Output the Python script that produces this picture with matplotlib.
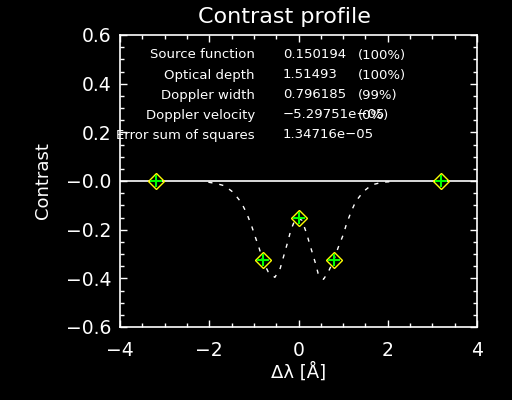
import matplotlib
matplotlib.use("Agg")
import matplotlib.pyplot as plt
from matplotlib.ticker import MultipleLocator, FuncFormatter

# ---- data ----
obs_x = [-3.2, -0.8, 0.0, 0.8, 3.2]
obs_y = [0.0, -0.325, -0.153, -0.325, 0.0]

model_x = [-2.02, -1.85, -1.65, -1.46, -1.28, -1.16, -1.05, -0.97, -0.88, -0.79,
           -0.68, -0.53, -0.41, -0.34, -0.25, -0.17, -0.08, 0.0, 0.08, 0.18,
           0.28, 0.37, 0.44, 0.56, 0.67, 0.79, 0.89, 1.00, 1.08, 1.18,
           1.28, 1.45, 1.64, 1.88, 2.05]
model_y = [-0.005, -0.010, -0.020, -0.047, -0.089, -0.133, -0.185, -0.229, -0.277, -0.332,
           -0.373, -0.396, -0.359, -0.314, -0.256, -0.201, -0.160, -0.153, -0.162, -0.215,
           -0.277, -0.332, -0.380, -0.404, -0.373, -0.325, -0.273, -0.222, -0.174, -0.126,
           -0.085, -0.044, -0.016, -0.005, -0.003]

param_names = ["Source function", "Optical depth", "Doppler width",
               "Doppler velocity", "Error sum of squares"]
param_values = ["0.150194", "1.51493", "0.796185", "\u22125.29751e\u221205", "1.34716e\u221205"]
param_pct = ["(100%)", "(100%)", "(99%)", "(0%)", ""]

title = "Contrast profile"
xlabel = "\u0394\u03bb [\u00c5]"
ylabel = "Contrast"

# ---- figure ----
plt.rcParams['font.family'] = ['DejaVu Sans']
FG = 'white'
fig = plt.figure(figsize=(5.12, 4.00), dpi=100, facecolor='black')
ax = fig.add_axes([120/512, 1-327/400, (477-120)/512, (327-35)/400], facecolor='black')

ax.set_xlim(-4, 4)
ax.set_ylim(-0.6, 0.6)

ax.axhline(0, color=FG, lw=1.2, zorder=2)
ax.plot(model_x, model_y, color=FG, lw=1.0, dashes=(3, 5), zorder=3)
ax.plot(obs_x, obs_y, linestyle='none', marker='D', markersize=8,
        markerfacecolor='none', markeredgecolor='yellow', markeredgewidth=1.0, zorder=4)
ax.plot(obs_x, obs_y, linestyle='none', marker='+', markersize=8,
        color='#00ff00', markeredgewidth=1.5, zorder=5)

for s in ax.spines.values():
    s.set_color(FG)
    s.set_linewidth(1.2)

ax.xaxis.set_major_locator(MultipleLocator(2))
ax.xaxis.set_minor_locator(MultipleLocator(0.5))
ax.yaxis.set_major_locator(MultipleLocator(0.2))
ax.yaxis.set_minor_locator(MultipleLocator(0.05))

def fmt_x(v, pos):
    s = "%d" % round(v)
    return s.replace('-', '\u2212')

def fmt_y(v, pos):
    if abs(v) < 1e-9:
        return "\u22120.0"
    return ("%.1f" % v).replace('-', '\u2212')

ax.xaxis.set_major_formatter(FuncFormatter(fmt_x))
ax.yaxis.set_major_formatter(FuncFormatter(fmt_y))

ax.tick_params(which='both', direction='in', colors=FG, top=True, right=True,
               labelsize=13.5, width=1.0)
ax.tick_params(which='major', length=5)
ax.tick_params(which='minor', length=3)
ax.tick_params(axis='x', pad=10)
ax.tick_params(axis='y', pad=6)

fig.text(284/512, 1-17/400, title, color=FG, fontsize=16, ha='center', va='center')
ax.set_xlabel(xlabel, color=FG, fontsize=13, labelpad=2)
ax.set_ylabel(ylabel, color=FG, fontsize=13, labelpad=10)

# annotation block (figure pixel coordinates)
rows_y = [55, 75, 95, 115, 135]
for name, val, pct, yy in zip(param_names, param_values, param_pct, rows_y):
    fig.text(255/512, 1-yy/400, name, color=FG, fontsize=9.5, ha='right', va='center')
    fig.text(283/512, 1-yy/400, val, color=FG, fontsize=9.5, ha='left', va='center')
    if pct:
        fig.text(358/512, 1-yy/400, pct, color=FG, fontsize=9.5, ha='left', va='center')

fig.savefig("out.png", dpi=100, facecolor='black')
